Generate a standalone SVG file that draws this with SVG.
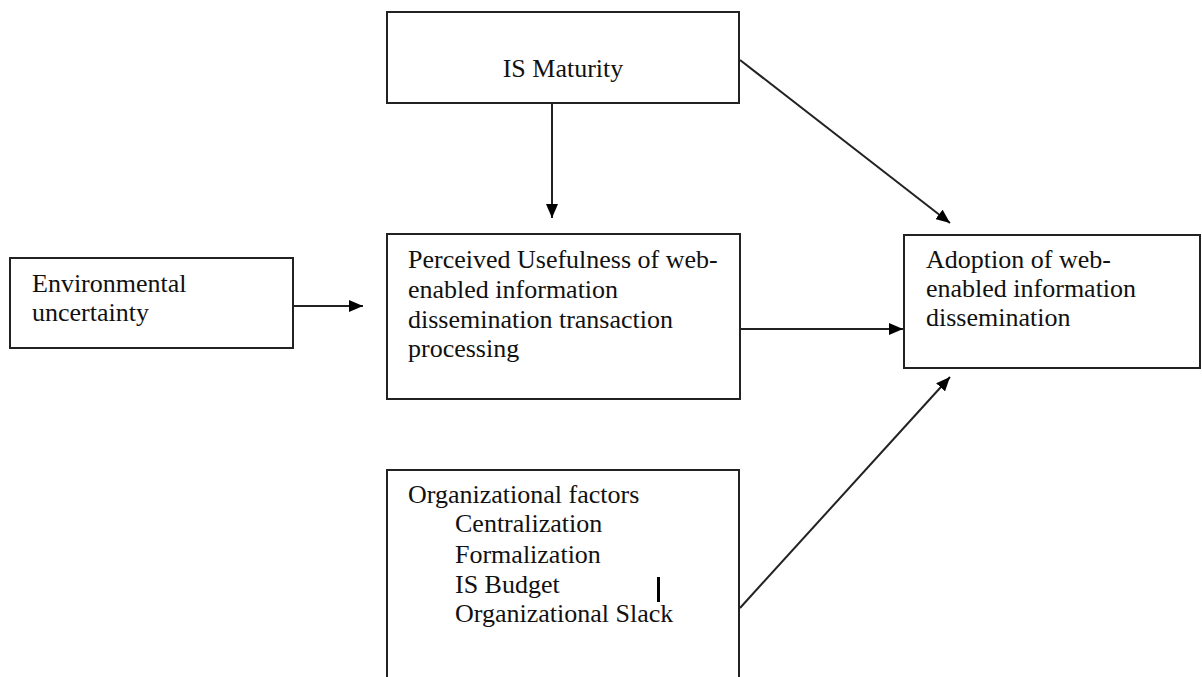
<svg xmlns="http://www.w3.org/2000/svg" width="1202" height="677" viewBox="0 0 1202 677">
<defs>
<marker id="ah" viewBox="0 0 14 12" refX="14" refY="6" markerWidth="14" markerHeight="12" markerUnits="userSpaceOnUse" orient="auto">
<path d="M0,0 L14,6 L0,12 z" fill="#000"/>
</marker>
<style>
.box{fill:#fff;stroke:#222;stroke-width:2}
.t{font-family:"Liberation Serif","Times New Roman",serif;font-size:26px;fill:#111}
.c{stroke:#222;stroke-width:2;fill:none;marker-end:url(#ah)}
</style>
</defs>
<rect width="1202" height="677" fill="#fff"/>
<g id="connectors">
<line class="c" x1="552" y1="103" x2="552" y2="218"/>
<line class="c" x1="293" y1="306" x2="363" y2="306"/>
<line class="c" x1="740" y1="329" x2="903" y2="329"/>
<line class="c" x1="740" y1="60" x2="950" y2="223"/>
<line class="c" x1="740" y1="608" x2="950" y2="377"/>
</g>
<g id="is-maturity">
<rect class="box" x="387" y="12" width="352" height="91"/>
<text class="t" x="563" y="77" text-anchor="middle">IS Maturity</text>
</g>
<g id="environmental">
<rect class="box" x="10" y="258" width="283" height="90"/>
<text class="t" x="32" y="292">Environmental</text>
<text class="t" x="32" y="321">uncertainty</text>
</g>
<g id="perceived">
<rect class="box" x="387" y="234" width="353" height="165"/>
<text class="t" x="408" y="268">Perceived Usefulness of web-</text>
<text class="t" x="408" y="298">enabled information</text>
<text class="t" x="408" y="328">dissemination transaction</text>
<text class="t" x="408" y="357">processing</text>
</g>
<g id="adoption">
<rect class="box" x="904" y="235" width="296" height="133"/>
<text class="t" x="926" y="268">Adoption of web-</text>
<text class="t" x="926" y="297">enabled information</text>
<text class="t" x="926" y="326">dissemination</text>
</g>
<g id="org-factors">
<rect class="box" x="387" y="470" width="352" height="220"/>
<text class="t" x="408" y="503">Organizational factors</text>
<text class="t" x="455" y="532">Centralization</text>
<text class="t" x="455" y="563">Formalization</text>
<text class="t" x="455" y="593">IS Budget</text>
<text class="t" x="455" y="622">Organizational Slack</text>
<rect x="657" y="577" width="3" height="25" fill="#000"/>
</g>
</svg>
